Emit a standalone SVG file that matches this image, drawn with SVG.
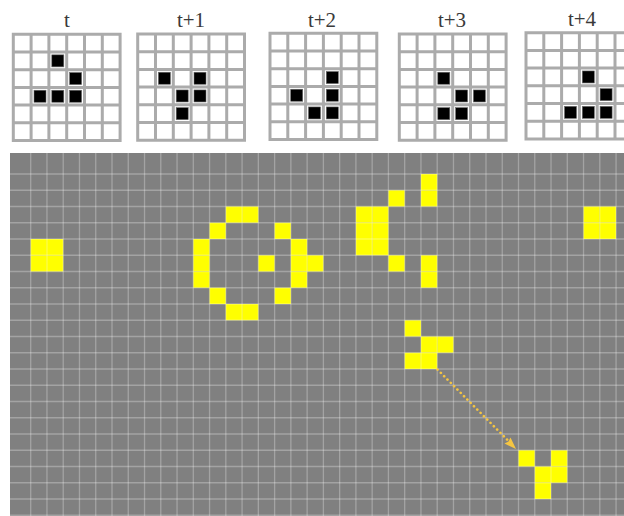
<svg xmlns="http://www.w3.org/2000/svg" xmlns:xlink="http://www.w3.org/1999/xlink" width="624" height="516" viewBox="0 0 624 516">
<style>
.lbl{font-family:"Liberation Serif","DejaVu Serif",serif;font-size:21px;fill:#3a3a3a;text-anchor:middle}
.sgl{fill:none;stroke:#ababab;stroke-width:3;stroke-linecap:square}
.blk{fill:#000;stroke:#6a6a6a;stroke-width:0.6}
.cell{fill:#ffff00}
.bgl{fill:none;stroke:#ffffff;stroke-opacity:0.28;stroke-width:1.3}
.arrow{fill:none;stroke:#f5c542;stroke-width:2.6;stroke-linecap:round;stroke-dasharray:0.1 4.6}
</style>
<defs>
<path id="sg" class="sgl" d="M0 0V106.2M17.8 0V106.2M35.6 0V106.2M53.4 0V106.2M71.2 0V106.2M89 0V106.2M106.8 0V106.2M0 0H106.8M0 17.7H106.8M0 35.4H106.8M0 53.1H106.8M0 70.8H106.8M0 88.5H106.8M0 106.2H106.8"/>
<rect id="b" class="blk" width="12" height="12"/>
<rect id="c" class="cell" width="16.26" height="16.25"/>
</defs>

<g id="frame-t" transform="translate(13.3 34.3)">
<use href="#sg"/>
<use href="#b" x="38.5" y="20.55"/>
<use href="#b" x="56.3" y="38.25"/>
<use href="#b" x="20.7" y="55.95"/>
<use href="#b" x="38.5" y="55.95"/>
<use href="#b" x="56.3" y="55.95"/>
</g>
<text class="lbl" x="67" y="27">t</text>

<g id="frame-t1" transform="translate(137.7 34)">
<use href="#sg"/>
<use href="#b" x="20.7" y="38.25"/>
<use href="#b" x="56.3" y="38.25"/>
<use href="#b" x="38.5" y="55.95"/>
<use href="#b" x="56.3" y="55.95"/>
<use href="#b" x="38.5" y="73.65"/>
</g>
<text class="lbl" x="191" y="27">t+1</text>

<g id="frame-t2" transform="translate(270 33.3)">
<use href="#sg"/>
<use href="#b" x="56.3" y="38.25"/>
<use href="#b" x="20.7" y="55.95"/>
<use href="#b" x="56.3" y="55.95"/>
<use href="#b" x="38.5" y="73.65"/>
<use href="#b" x="56.3" y="73.65"/>
</g>
<text class="lbl" x="322" y="27">t+2</text>

<g id="frame-t3" transform="translate(399.3 34)">
<use href="#sg"/>
<use href="#b" x="38.5" y="38.25"/>
<use href="#b" x="56.3" y="55.95"/>
<use href="#b" x="74.1" y="55.95"/>
<use href="#b" x="38.5" y="73.65"/>
<use href="#b" x="56.3" y="73.65"/>
</g>
<text class="lbl" x="452" y="27">t+3</text>

<g id="frame-t4" transform="translate(526 32.7)">
<use href="#sg"/>
<use href="#b" x="56.3" y="38.25"/>
<use href="#b" x="74.1" y="55.95"/>
<use href="#b" x="38.5" y="73.65"/>
<use href="#b" x="56.3" y="73.65"/>
<use href="#b" x="74.1" y="73.65"/>
</g>
<text class="lbl" x="582" y="26">t+4</text>

<g id="board">
<rect x="10" y="153" width="614" height="363" fill="#808080"/>
</g>

<g id="block-left">
<use href="#c" x="30.7" y="239"/><use href="#c" x="46.96" y="239"/>
<use href="#c" x="30.7" y="255.25"/><use href="#c" x="46.96" y="255.25"/>
</g>

<g id="ring">
<use href="#c" x="225.82" y="206.5"/><use href="#c" x="242.08" y="206.5"/>
<use href="#c" x="209.56" y="222.75"/><use href="#c" x="274.6" y="222.75"/>
<use href="#c" x="193.3" y="239"/><use href="#c" x="193.3" y="255.25"/><use href="#c" x="193.3" y="271.5"/>
<use href="#c" x="258.34" y="255.25"/>
<use href="#c" x="290.86" y="239"/><use href="#c" x="290.86" y="255.25"/><use href="#c" x="290.86" y="271.5"/>
<use href="#c" x="307.12" y="255.25"/>
<use href="#c" x="209.56" y="287.75"/><use href="#c" x="274.6" y="287.75"/>
<use href="#c" x="225.82" y="304"/><use href="#c" x="242.08" y="304"/>
</g>

<g id="gun">
<use href="#c" x="420.94" y="174"/><use href="#c" x="420.94" y="190.25"/>
<use href="#c" x="388.42" y="190.25"/>
<use href="#c" x="355.9" y="206.5"/><use href="#c" x="372.16" y="206.5"/>
<use href="#c" x="355.9" y="222.75"/><use href="#c" x="372.16" y="222.75"/>
<use href="#c" x="355.9" y="239"/><use href="#c" x="372.16" y="239"/>
<use href="#c" x="388.42" y="255.25"/>
<use href="#c" x="420.94" y="255.25"/><use href="#c" x="420.94" y="271.5"/>
</g>

<g id="block-right">
<use href="#c" x="583.54" y="206.5"/><use href="#c" x="599.8" y="206.5"/>
<use href="#c" x="583.54" y="222.75"/><use href="#c" x="599.8" y="222.75"/>
</g>

<g id="glider-start">
<use href="#c" x="404.68" y="320.25"/>
<use href="#c" x="420.94" y="336.5"/><use href="#c" x="437.2" y="336.5"/>
<use href="#c" x="404.68" y="352.75"/><use href="#c" x="420.94" y="352.75"/>
</g>

<g id="glider-end">
<use href="#c" x="518.5" y="450.25"/><use href="#c" x="551.02" y="450.25"/>
<use href="#c" x="534.76" y="466.5"/><use href="#c" x="551.02" y="466.5"/>
<use href="#c" x="534.76" y="482.75"/>
</g>

<g id="gridlines">
<path class="bgl" d="M30.7 153V516M46.96 153V516M63.22 153V516M79.48 153V516M95.74 153V516M112 153V516M128.26 153V516M144.52 153V516M160.78 153V516M177.04 153V516M193.3 153V516M209.56 153V516M225.82 153V516M242.08 153V516M258.34 153V516M274.6 153V516M290.86 153V516M307.12 153V516M323.38 153V516M339.64 153V516M355.9 153V516M372.16 153V516M388.42 153V516M404.68 153V516M420.94 153V516M437.2 153V516M453.46 153V516M469.72 153V516M485.98 153V516M502.24 153V516M518.5 153V516M534.76 153V516M551.02 153V516M567.28 153V516M583.54 153V516M599.8 153V516M616.06 153V516"/>
<path class="bgl" d="M10 174H624M10 190.25H624M10 206.5H624M10 222.75H624M10 239H624M10 255.25H624M10 271.5H624M10 287.75H624M10 304H624M10 320.25H624M10 336.5H624M10 352.75H624M10 369H624M10 385.25H624M10 401.5H624M10 417.75H624M10 434H624M10 450.25H624M10 466.5H624M10 482.75H624M10 499H624M10 515.25H624"/>
</g>

<g id="connectors">
<path class="arrow" d="M437.5 369.5L511 443.5"/>
<path d="M516 449L504.5 443.5L508.5 441.5L510.5 437.5Z" fill="#f5c542"/>
</g>
</svg>
